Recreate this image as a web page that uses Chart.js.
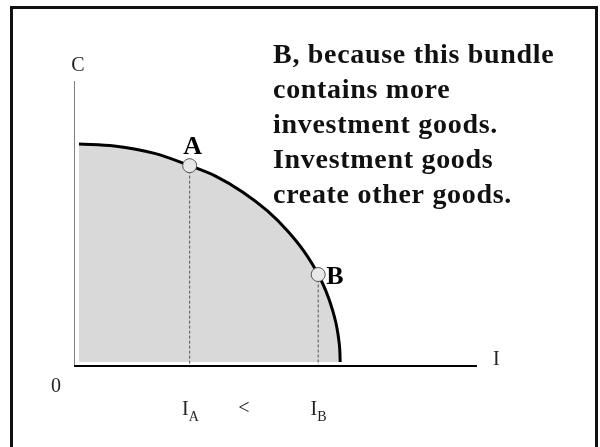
<!DOCTYPE html>
<html>
<head>
<meta charset="utf-8">
<script src="https://cdn.jsdelivr.net/npm/chart.js@4/dist/chart.umd.min.js"></script>
<style>
  html, body { margin: 0; padding: 0; background: #fff; }
  #wrap { position: relative; width: 600px; height: 447px; }
</style>
</head>
<body>
<div id="wrap"><canvas id="ppf" width="600" height="447"></canvas></div>
<script>
// Production possibilities frontier: investment goods (I) vs consumption goods (C)
const frontierI = [1.24, 10, 20, 28.7, 35, 42, 48, 53, 57, 60.6, 63, 65, 65.5, 65.8, 66.0, 66.04];
const frontierC = [77.9, 77.2, 74.6, 70.3, 66.7, 60.9, 54.4, 47.4, 40.4, 32.1, 24.5, 15.1, 11.2, 8.0, 4.1, 1.4];
const fillBase = 1.4;

// The two bundles on the frontier
const bundleNames = ['A', 'B'];
const bundleI = [28.7, 60.6];
const bundleC = [70.3, 32.1];

// Axis and annotation text
const axisLabelC = 'C';
const axisLabelI = 'I';
const originLabel = '0';
const compareSign = '<';
const noteLines = [
  'B, because this bundle',
  'contains more',
  'investment goods.',
  'Investment goods',
  'create other goods.'
];

const serif = '"Liberation Serif", "Times New Roman", serif';

const frontier = frontierI.map((x, i) => ({ x, y: frontierC[i] }));
const bundles = bundleI.map((x, i) => ({ x, y: bundleC[i] }));
const dropLines = bundleI.map((x, i) => ({
  type: 'line',
  data: [{ x, y: bundleC[i] }, { x, y: 0 }],
  borderColor: '#555',
  borderWidth: 1,
  borderDash: [3, 2],
  pointRadius: 0,
  fill: false,
  order: 1
}));

const decorations = {
  id: 'decorations',
  beforeDraw(chart) {
    const ctx = chart.ctx;
    ctx.save();
    ctx.fillStyle = '#fff';
    ctx.fillRect(0, 0, chart.width, chart.height);
    ctx.restore();
  },
  afterDatasetsDraw(chart) {
    const ctx = chart.ctx;
    const xs = chart.scales.x, ys = chart.scales.y;
    const x0 = xs.getPixelForValue(0), y0 = ys.getPixelForValue(0);
    const xEnd = xs.getPixelForValue(100), yTop = ys.getPixelForValue(100);
    ctx.save();
    // vertical axis (C)
    ctx.strokeStyle = '#808080';
    ctx.lineWidth = 1;
    ctx.beginPath();
    ctx.moveTo(x0 + 0.5, yTop);
    ctx.lineTo(x0 + 0.5, y0);
    ctx.stroke();
    // horizontal axis (I)
    ctx.strokeStyle = '#000';
    ctx.lineWidth = 2;
    ctx.beginPath();
    ctx.moveTo(x0, y0);
    ctx.lineTo(xEnd, y0);
    ctx.stroke();
    ctx.restore();
  },
  afterDraw(chart) {
    const ctx = chart.ctx;
    const xs = chart.scales.x, ys = chart.scales.y;
    const x0 = xs.getPixelForValue(0), y0 = ys.getPixelForValue(0);
    const xEnd = xs.getPixelForValue(100), yTop = ys.getPixelForValue(100);
    ctx.save();

    // outer frame
    ctx.strokeStyle = '#111';
    ctx.lineWidth = 3;
    ctx.strokeRect(11.5, 7.5, 585, 460);

    ctx.fillStyle = '#222';
    ctx.textBaseline = 'alphabetic';
    ctx.font = '20px ' + serif;
    ctx.textAlign = 'center';
    ctx.fillText(axisLabelC, x0 + 4, yTop - 10);
    ctx.textAlign = 'left';
    ctx.fillText(axisLabelI, xEnd + 16, y0 - 1);
    ctx.textAlign = 'center';
    ctx.fillText(originLabel, x0 - 18, y0 + 26);

    // I_A < I_B under the drop lines
    const base = y0 + 49;
    bundleI.forEach((v, i) => {
      const px = xs.getPixelForValue(v);
      ctx.font = '20px ' + serif;
      ctx.textAlign = 'right';
      ctx.fillText(axisLabelI, px - 1, base);
      ctx.font = '14px ' + serif;
      ctx.textAlign = 'left';
      ctx.fillText(bundleNames[i], px - 1, base + 6);
    });
    ctx.font = '20px ' + serif;
    ctx.textAlign = 'center';
    const midPx = (xs.getPixelForValue(bundleI[0]) + xs.getPixelForValue(bundleI[1])) / 2;
    ctx.fillText(compareSign, midPx - 10, base - 1);

    // bundle names next to the points
    ctx.fillStyle = '#000';
    ctx.font = 'bold 26px ' + serif;
    const ax = xs.getPixelForValue(bundleI[0]), ay = ys.getPixelForValue(bundleC[0]);
    ctx.textAlign = 'center';
    ctx.fillText(bundleNames[0], ax + 3, ay - 12);
    const bx = xs.getPixelForValue(bundleI[1]), by = ys.getPixelForValue(bundleC[1]);
    ctx.textAlign = 'left';
    ctx.fillText(bundleNames[1], bx + 8, by + 9);

    // explanatory note
    ctx.font = 'bold 28px ' + serif;
    ctx.letterSpacing = '0.7px';
    ctx.fillStyle = '#111';
    noteLines.forEach((line, i) => {
      ctx.fillText(line, 273, 63 + i * 35);
    });
    ctx.restore();
  }
};

new Chart(document.getElementById('ppf'), {
  type: 'scatter',
  data: {
    datasets: [
      {
        label: 'bundles',
        data: bundles,
        pointRadius: 7,
        pointHoverRadius: 7,
        pointBackgroundColor: '#e8e8e8',
        pointBorderColor: '#555',
        pointBorderWidth: 1,
        showLine: false,
        order: 0
      },
      ...dropLines,
      {
        type: 'line',
        label: 'frontier',
        data: frontier,
        borderColor: '#000',
        borderWidth: 3,
        backgroundColor: '#d9d9d9',
        fill: { value: fillBase },
        cubicInterpolationMode: 'monotone',
        pointRadius: 0,
        order: 2
      }
    ]
  },
  options: {
    responsive: false,
    animation: false,
    events: [],
    layout: { padding: { left: 74, right: 123, top: 81, bottom: 81 } },
    scales: {
      x: { type: 'linear', min: 0, max: 100, display: false },
      y: { type: 'linear', min: 0, max: 100, display: false }
    },
    plugins: {
      legend: { display: false },
      tooltip: { enabled: false }
    }
  },
  plugins: [decorations]
});
</script>
</body>
</html>
